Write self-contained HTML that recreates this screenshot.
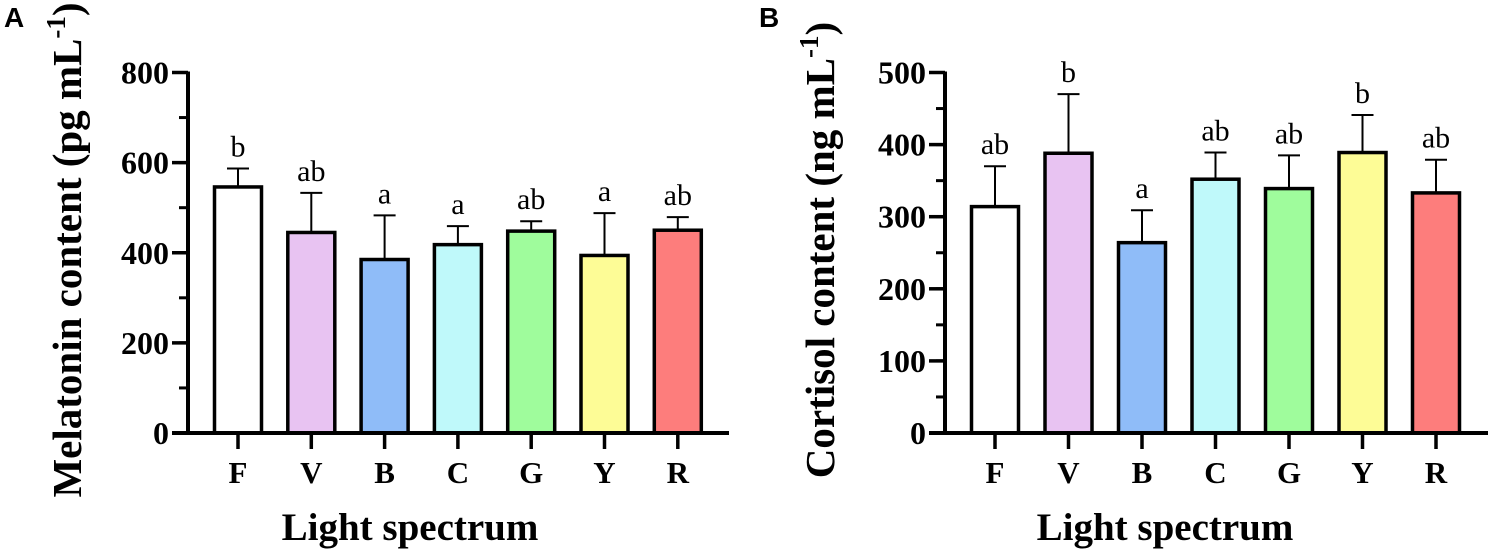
<!DOCTYPE html>
<html><head><meta charset="utf-8"><style>
html,body{margin:0;padding:0;background:#fff;}
svg{display:block;}
text{font-family:"Liberation Serif",serif;fill:#000;}
</style></head><body>
<svg id="chart" width="1490" height="552" viewBox="0 0 1490 552" xmlns="http://www.w3.org/2000/svg"></svg>
<script>
const categories = ["F","V","B","C","G","Y","R"];
const colors = ["#ffffff","#e8c3f2","#8fbcf8","#bff9fa","#9ffc9c","#fdfc96","#fd7d7c"];
const melatoninValues = [546,445,385,418,448,394,450];
const melatoninErrors = [587,533,483,459,470,488,479];
const melatoninLetters = ["b","ab","a","a","ab","a","ab"];
const melatoninTicks = [0,200,400,600,800];
const cortisolValues = [314,388,264,352,339,389,333];
const cortisolErrors = [370,470,309,389,385,441,379];
const cortisolLetters = ["ab","b","a","ab","ab","b","ab"];
const cortisolTicks = [0,100,200,300,400,500];

const svg = document.getElementById('chart');
const NS = 'http://www.w3.org/2000/svg';
function mk(tag, attrs, parent){
  const e = document.createElementNS(NS, tag);
  for (const k in attrs) e.setAttribute(k, attrs[k]);
  (parent||svg).appendChild(e);
  return e;
}
function panel(o){
  const g = mk('g', {});
  
  
  const y0 = 433, y1 = 72.5;
  const yS = v => y0 - (v / o.max) * (y0 - y1);
  const xS = i => o.x0 + i * o.step;
  for (let v = 0; v <= o.max + 1e-9; v += o.minor) {
    const t = mk('line', {x1:o.ax-9, x2:o.ax, y1:yS(v), y2:yS(v), stroke:'#000','stroke-width':3}, g);
    
    
  }
  o.ticks.forEach(v => {
    const t = mk('line', {x1:o.ax-16, x2:o.ax, y1:yS(v), y2:yS(v), stroke:'#000','stroke-width':3.5}, g);
    
    
    const l = mk('text', {x:o.ax-19, y:yS(v)+11, 'text-anchor':'end','font-size':32,'font-weight':'bold'}, g);
    l.textContent = v;
    
    
  });
  categories.forEach((c, i) => {
    const cx = xS(i), top = yS(o.values[i]), et = yS(o.errors[i]);
    const eb = mk('line', {x1:cx, x2:cx, y1:et, y2:top, stroke:'#000','stroke-width':2}, g);
    
    
    const cap = mk('line', {x1:cx-11, x2:cx+11, y1:et, y2:et, stroke:'#000','stroke-width':2}, g);
    
    
    const r = mk('rect', {x:cx-o.bw/2, y:top, width:o.bw, height:y0-top, fill:colors[i], stroke:'#000','stroke-width':3.5}, g);
    
    
    const lt = mk('text', {x:cx, y:et-12, 'text-anchor':'middle','font-size':30}, g);
    lt.textContent = o.letters[i];
    
    
    const xt = mk('line', {x1:cx, x2:cx, y1:y0, y2:y0+16, stroke:'#000','stroke-width':3.5}, g);
    
    
    const xl = mk('text', {x:cx, y:483, 'text-anchor':'middle','font-size':31,'font-weight':'bold'}, g);
    xl.textContent = c;
    
    
  });
  const ya = mk('line', {x1:o.ax, x2:o.ax, y1:y1-1, y2:y0+2, stroke:'#000','stroke-width':4}, g);
  
  
  const xa = mk('line', {x1:o.ax-16, x2:o.xEnd, y1:y0, y2:y0, stroke:'#000','stroke-width':4}, g);
  
  
  const xtitle = mk('text', {x:o.xTitleX, y:540, 'text-anchor':'middle','font-size':39,'font-weight':'bold'}, g);
  xtitle.textContent = 'Light spectrum';
  
  
  const yt = mk('text', {x:0, y:0, 'text-anchor':'middle','font-size':41,'font-weight':'bold', transform:'translate('+o.yTitleX+',250) rotate(-90)'}, g);
  
  
  yt.appendChild(document.createTextNode(o.yTitle + ' mL'));
  const sup = mk('tspan', {'font-size':27, dy:-16}, yt);
  sup.textContent = '-1';
  const cl = mk('tspan', {dy:16}, yt);
  cl.textContent = ')';
  const pl = mk('text', {x:o.letterX, y:27, 'font-size':28,'font-weight':'bold', style:'font-family:"Liberation Sans",sans-serif'}, g);
  pl.textContent = o.letter;
  
  
}
panel({name:'panel-a-melatonin', ax:188, x0:238, step:73.3, bw:47, max:800, minor:100, ticks:melatoninTicks,
  values:melatoninValues, errors:melatoninErrors, letters:melatoninLetters, xEnd:729, xTitleX:410,
  yTitleX:81, yTitle:'Melatonin content (pg', letter:'A', letterX:4});
panel({name:'panel-b-cortisol', ax:945, x0:995, step:73.5, bw:47, max:500, minor:50, ticks:cortisolTicks,
  values:cortisolValues, errors:cortisolErrors, letters:cortisolLetters, xEnd:1488, xTitleX:1165,
  yTitleX:834, yTitle:'Cortisol content (ng', letter:'B', letterX:759});
</script>
</body></html>
